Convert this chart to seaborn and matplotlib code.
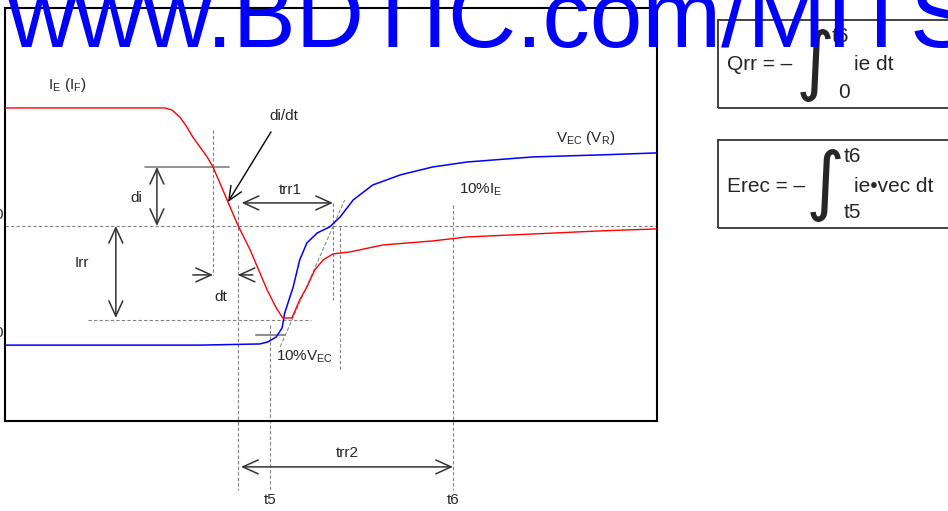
import numpy as np
import pandas as pd
import matplotlib.pyplot as plt
import seaborn as sns
from matplotlib.patches import Rectangle

# ===== Waveform data (time: % of window, signal: % of I_F) =====
ie_t = [0, 8.4, 17.6, 24.5, 25.6, 26.8, 27.8, 28.8, 31.0, 31.9, 34.2, 35.7, 37.6, 40.2,
        41.6, 42.6, 44.0, 45.2, 46.3, 47.5, 48.8, 50.3, 52.9, 58.0, 65.6, 70.9, 81.0, 91.3, 100]
ie_val = [100, 100, 100, 100, 98.3, 92.4, 84.7, 75.4, 58.5, 50.0, 20.3, 0.8, -20.3, -54.2,
          -69.5, -78.0, -78.0, -62.7, -51.7, -37.3, -28.8, -23.7, -22.0, -16.1, -12.7, -9.3, -6.8, -4.2, -2.5]

vec_t = [0, 14.6, 29.9, 39.1, 40.3, 41.6, 42.5, 42.9, 44.2, 45.2, 46.3, 47.9, 49.8, 51.4,
         53.4, 56.4, 60.6, 65.6, 70.9, 81.0, 91.3, 100]
vec_val = [-101, -101, -101, -100, -98.3, -94.1, -86.4, -73.7, -51.7, -28.8, -14.4, -5.9, -0.8, 7.6,
           22.0, 34.7, 43.2, 50.0, 54.2, 58.5, 60.2, 61.9]

# ===== Characteristic points =====
t_di_start = 31.9      # start of di/dt measurement
t_zero = 35.7          # zero crossing of ie
t5 = 40.6
t_trr1 = 50.3
t_ie_knee = 51.4
t6 = 68.7
i_di = 50.0
i_rr = -79.7
i_10vec = -92.4
tangent_t = [42.2, 52.1]
tangent_v = [-102.5, 22.0]

# ===== Style =====
sns.set_style("white")
plt.rcParams['font.family'] = ['Liberation Sans', 'DejaVu Sans']
plt.rcParams['mathtext.fontset'] = 'custom'
plt.rcParams['mathtext.rm'] = 'Liberation Sans'
plt.rcParams['mathtext.it'] = 'Liberation Sans:italic'

W, H = 948, 511
fx = lambda px: px / W
fy = lambda py: 1 - py / H

fig = plt.figure(figsize=(W / 100, H / 100), dpi=100)
ax = fig.add_axes([fx(5), fy(421), (657 - 5) / W, (421 - 8) / H])
ax.set_xlim(0, 100)
ax.set_ylim(-165.3, 184.7)
ax.set_xticks([])
ax.set_yticks([])
for s in ax.spines.values():
    s.set_color('black')
    s.set_linewidth(1.5)

dash = dict(color='#808080', lw=0.8, ls=(0, (3, 2)), clip_on=False)
arrow2 = dict(arrowstyle='<->,head_length=0.55,head_width=0.25', mutation_scale=20,
              color='#333333', lw=1.1, shrinkA=0, shrinkB=0)
arrow1 = dict(arrowstyle='->,head_length=0.55,head_width=0.25', mutation_scale=20,
              color='#333333', lw=1.1, shrinkA=0, shrinkB=0)

# ===== Reference lines =====
ax.plot([0, 100], [0, 0], **dash)
ax.plot([12.7, 46.9], [i_rr, i_rr], **dash)
ax.plot([t_di_start, t_di_start], [81.4, -41.5], **dash)
ax.plot([t_zero, t_zero], [17.8, -223.7], **dash)
ax.plot([t5, t5], [-83.9, -223.7], **dash)
ax.plot([t_trr1, t_trr1], [19.5, -62.7], **dash)
ax.plot([t_ie_knee, t_ie_knee], [-0.8, -122], **dash)
ax.plot([t6, t6], [17.8, -223.7], **dash)
ax.plot(tangent_t, tangent_v, color='#808080', lw=0.7, ls=(0, (4, 2)))
ax.plot([21.5, 34.4], [i_di, i_di], color='#808080', lw=1.2)
ax.plot([38.5, 42.9], [i_10vec, i_10vec], color='#909090', lw=1.5)

# ===== Waveforms =====
sns.lineplot(x=vec_t, y=vec_val, color='#0000FF', lw=1.1, ax=ax, zorder=4)
sns.lineplot(x=ie_t, y=ie_val, color='#FF0000', lw=1.0, ax=ax, zorder=5)

# ===== Arrows =====
ax.annotate('', xy=(23.3, 0), xytext=(23.3, i_di), arrowprops=arrow2)
ax.annotate('', xy=(17.0, -78), xytext=(17.0, 0), arrowprops=arrow2)
ax.annotate('', xy=(t_di_start, -41.5), xytext=(28.8, -41.5), arrowprops=arrow1)
ax.annotate('', xy=(t_zero, -41.5), xytext=(38.0, -41.5), arrowprops=arrow1)
ax.annotate('', xy=(36.3, 19.5), xytext=(t_trr1, 19.5), arrowprops=arrow2)
ax.annotate('', xy=(36.2, -204.2), xytext=(t6, -204.2), arrowprops=arrow2,
            annotation_clip=False)
ax.annotate('', xy=(34.2, 20.3), xytext=(40.8, 79.7),
            arrowprops=dict(arrowstyle='->,head_length=0.5,head_width=0.22', mutation_scale=20,
                            color='black', lw=1.0, shrinkA=0, shrinkB=0))

# ===== Labels =====
lab = dict(fontsize=11, ha='center', va='center', clip_on=False)
ax.text(9.5, 119.5, r'$\mathregular{I_E\ (I_F)}$', **lab)
ax.text(89.0, 74.6, r'$\mathregular{V_{EC}\ (V_R)}$', **lab)
ax.text(72.9, 30.5, r'$\mathregular{10\%I_E}$', **lab)
ax.text(46.0, -111, r'$\mathregular{10\%V_{EC}}$', **lab)
ax.text(20.2, 23.7, 'di', **lab)
ax.text(11.8, -31.4, 'Irr', **lab)
ax.text(33.1, -60.2, 'dt', **lab)
ax.text(43.7, 30.5, 'trr1', **lab)
ax.text(42.8, 93.2, 'di/dt', **lab)
ax.text(52.5, -192.4, 'trr2', **lab)
ax.text(t5, -232, 't5', **lab)
ax.text(t6, -232, 't6', **lab)

# cut-off axis labels at left edge
fig.text(fx(3), fy(215), '0', fontsize=11, ha='right', va='center')
fig.text(fx(3), fy(333), '0', fontsize=11, ha='right', va='center')

# ===== Formula boxes =====
for top, bot in [(20, 108), (140, 228)]:
    fig.add_artist(Rectangle((fx(718), fy(bot)), fx(260), (bot - top) / H,
                             transform=fig.transFigure, fill=False, ec='#333333', lw=1.3))

ftxt = dict(fontsize=15, va='center', ha='left')
integ = dict(fontsize=54, family='DejaVu Sans', ha='center', va='center')
fig.text(fx(727), fy(65), 'Qrr = –', **ftxt)
fig.text(fx(815), fy(66), '∫', **integ)
fig.text(fx(832), fy(37), 't6', **ftxt)
fig.text(fx(838), fy(92), '0', **ftxt)
fig.text(fx(854), fy(65), 'ie dt', **ftxt)

fig.text(fx(727), fy(186), 'Erec = –', **ftxt)
fig.text(fx(825), fy(186), '∫', **integ)
fig.text(fx(844), fy(157), 't6', **ftxt)
fig.text(fx(844), fy(212), 't5', **ftxt)
fig.text(fx(854), fy(186), 'ie•vec dt', **ftxt)

# ===== Watermark =====
fig.text(fx(7), fy(47), 'www.BDTIC.com/MITSUBISHI', fontsize=68, color='#0000FF',
         family='Liberation Sans', va='baseline', ha='left', zorder=10)

fig.savefig("out.png", dpi=100)
